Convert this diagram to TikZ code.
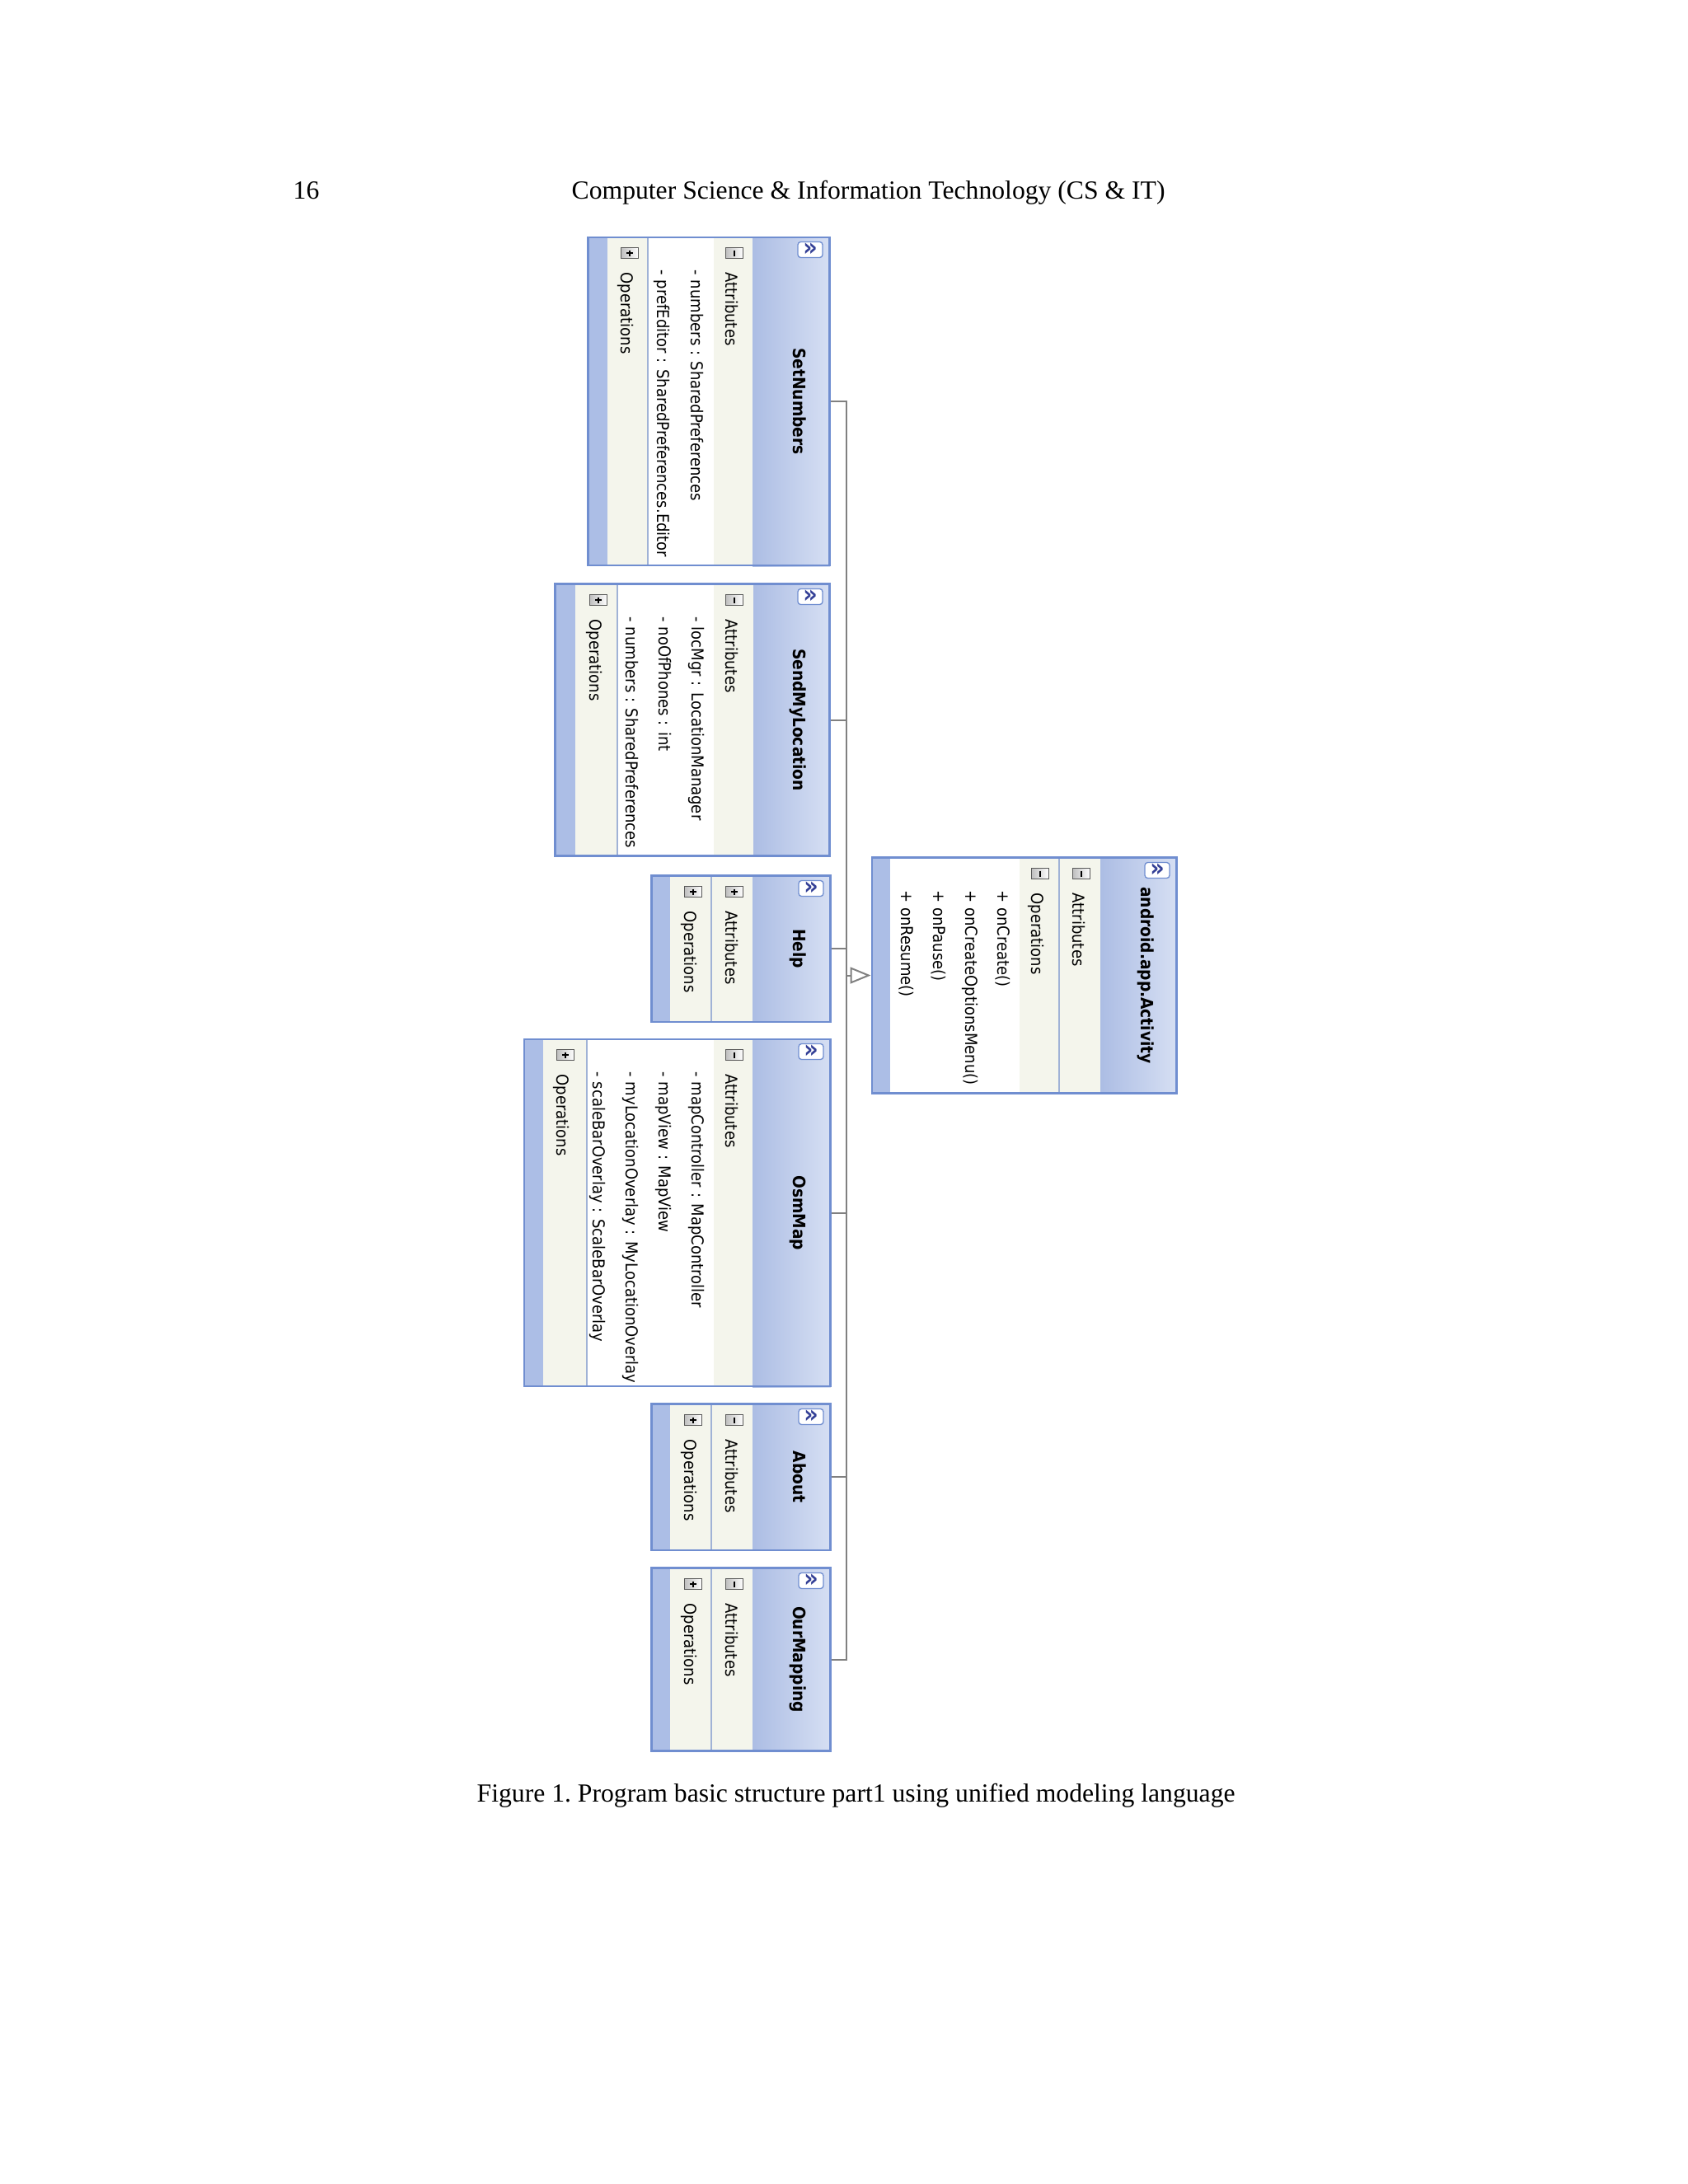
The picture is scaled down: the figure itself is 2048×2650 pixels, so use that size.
\documentclass[tikz,border=0pt]{standalone}
\usepackage{fontspec}
\setmainfont{Liberation Serif}
\newfontfamily\umlfont{DejaVu Sans Condensed}
\usetikzlibrary{arrows.meta}
\newlength\pxu
\setlength\pxu{0.2989pt}
\definecolor{framecol}{RGB}{112,142,208}
\definecolor{stripcol}{RGB}{172,190,230}
\definecolor{hdrdark}{RGB}{172,189,228}
\definecolor{hdrlight}{RGB}{214,223,243}
\definecolor{rowcol}{RGB}{244,245,236}
\definecolor{divcol}{RGB}{160,178,214}
\definecolor{linecol}{RGB}{128,128,128}
\definecolor{btncol}{RGB}{52,64,150}

\begin{document}
\begin{tikzpicture}[x=0.010542cm, y=-0.010542cm,
  frame/.style={draw=framecol, line width=0.7pt, inner sep=0pt},
  strip/.style={fill=stripcol},
  row/.style={fill=rowcol},
  header/.style={left color=hdrdark, right color=hdrlight},
  divider/.style={draw=divcol, line width=0.5pt},
  classname/.style={font=\umlfont\bfseries\fontsize{6.2}{7}\selectfont, rotate=-90, anchor=base, inner sep=0pt},
  entry/.style={font=\umlfont\fontsize{6}{7}\selectfont, rotate=-90, anchor=base west, inner sep=0pt},
  btn/.style={draw=framecol, fill=white, rounded corners=1pt, line width=0.4pt,
    minimum width=30*\pxu, minimum height=19*\pxu, inner sep=0pt, text=btncol,
    font=\umlfont\bfseries\fontsize{9}{9}\selectfont},
  conn/.style={draw=linecol, line width=0.6pt},
  gen/.style={conn, -{Triangle[open, length=7.5pt, width=6pt]}},
  pagetext/.style={font=\fontsize{9.5}{11}\selectfont\frenchspacing, inner sep=0pt, anchor=base west},
  pics/minusbox/.style={code={
    \shade[left color=gray!50, right color=white, draw=gray!70!black, line width=0.3pt]
      (-10.5,-6.5) rectangle (10.5,6.5);
    \draw[line width=0.8pt] (0,-3.5) -- (0,3.5);
  }},
  pics/plusbox/.style={code={
    \shade[left color=gray!50, right color=white, draw=gray!70!black, line width=0.3pt]
      (-10.5,-6.5) rectangle (10.5,6.5);
    \draw[line width=0.6pt] (0,-3.5) -- (0,3.5) (-4,0) -- (4,0);
  }}
]
\fill[white] (0,0) rectangle (2048,2650);
\useasboundingbox (0,0) rectangle (2048,2650);

\node[pagetext] (pgnum) at (355,241) {16};
\node[pagetext] (runhead) at (693,241) {Computer Science \& Information Technology (CS \& IT)};

% SetNumbers
\fill[strip] (713,287) rectangle (737,687);
\fill[row] (737,287) rectangle (913,687);
\fill[white] (786,287) rectangle (866,687);
\shade[header] (913,287) rectangle (1007,687);
\draw[divider] (786,287) -- (786,687);
\node[frame, minimum width=294*\pxu, minimum height=400*\pxu] (sn) at (860,487) {};
\node[classname] (sn-name) at (962,487) {SetNumbers};
\node[btn] (sn-btn) at (983,303) {»};
\pic at (891,307) {minusbox};
\node[entry] (sn-attr) at (880,330) {Attributes};
\node[entry] (sn-a1) at (838,327) {- numbers : SharedPreferences};
\node[entry] (sn-a2) at (797,327) {- prefEditor : SharedPreferences.Editor};
\pic at (764,307) {plusbox};
\node[entry] (sn-ops) at (753,330) {Operations};

% SendMyLocation
\fill[strip] (673,708) rectangle (698,1039);
\fill[row] (698,708) rectangle (914,1039);
\fill[white] (749,708) rectangle (866,1039);
\shade[header] (914,708) rectangle (1007,1039);
\draw[divider] (749,708) -- (749,1039);
\node[frame, minimum width=334*\pxu, minimum height=331*\pxu] (sml) at (840,873.5) {};
\node[classname] (sml-name) at (962,873.5) {SendMyLocation};
\node[btn] (sml-btn) at (983,724) {»};
\pic at (891,728) {minusbox};
\node[entry] (sml-attr) at (880,751) {Attributes};
\node[entry] (sml-a1) at (839,748) {- locMgr : LocationManager};
\node[entry] (sml-a2) at (799,748) {- noOfPhones : int};
\node[entry] (sml-a3) at (759,748) {- numbers : SharedPreferences};
\pic at (726,728) {plusbox};
\node[entry] (sml-ops) at (715,751) {Operations};

% Help
\fill[strip] (790,1062) rectangle (813,1240);
\fill[row] (813,1062) rectangle (913,1240);
\shade[header] (913,1062) rectangle (1008,1240);
\draw[divider] (863,1062) -- (863,1240);
\node[frame, minimum width=218*\pxu, minimum height=178*\pxu] (help) at (899,1151) {};
\node[classname] (help-name) at (962,1151) {Help};
\node[btn] (help-btn) at (984,1078) {»};
\pic at (891,1082) {plusbox};
\node[entry] (help-attr) at (880,1105) {Attributes};
\pic at (841,1082) {plusbox};
\node[entry] (help-ops) at (830,1105) {Operations};

% android.app.Activity
\fill[strip] (1057,1040) rectangle (1080,1327);
\fill[row] (1080,1040) rectangle (1335,1327);
\fill[white] (1080,1040) rectangle (1237,1327);
\shade[header] (1335,1040) rectangle (1428,1327);
\draw[divider] (1285,1040) -- (1285,1327);
\node[frame, minimum width=371*\pxu, minimum height=287*\pxu] (act) at (1242.5,1183.5) {};
\node[classname] (act-name) at (1384,1183.5) {android.app.Activity};
\node[btn] (act-btn) at (1404,1056) {»};
\pic at (1312,1060) {minusbox};
\node[entry] (act-attr) at (1301,1083) {Attributes};
\pic at (1262,1060) {minusbox};
\node[entry] (act-ops) at (1251,1083) {Operations};
\node[entry] (act-o1) at (1210,1080) {+ onCreate()};
\node[entry] (act-o2) at (1171,1080) {+ onCreateOptionsMenu()};
\node[entry] (act-o3) at (1132,1080) {+ onPause()};
\node[entry] (act-o4) at (1093,1080) {+ onResume()};

% OsmMap
\fill[strip] (635,1260) rectangle (659,1683);
\fill[row] (659,1260) rectangle (913,1683);
\fill[white] (712,1260) rectangle (866,1683);
\shade[header] (913,1260) rectangle (1008,1683);
\draw[divider] (712,1260) -- (712,1683);
\node[frame, minimum width=373*\pxu, minimum height=423*\pxu] (osm) at (821.5,1471.5) {};
\node[classname] (osm-name) at (962,1471.5) {OsmMap};
\node[btn] (osm-btn) at (984,1276) {»};
\pic at (891,1280) {minusbox};
\node[entry] (osm-attr) at (880,1303) {Attributes};
\node[entry] (osm-a1) at (839,1300) {- mapController : MapController};
\node[entry] (osm-a2) at (799,1300) {- mapView : MapView};
\node[entry] (osm-a3) at (759,1300) {- myLocationOverlay : MyLocationOverlay};
\node[entry] (osm-a4) at (719,1300) {- scaleBarOverlay : ScaleBarOverlay};
\pic at (686,1280) {plusbox};
\node[entry] (osm-ops) at (675,1303) {Operations};

% About
\fill[strip] (790,1703) rectangle (813,1881);
\fill[row] (813,1703) rectangle (913,1881);
\shade[header] (913,1703) rectangle (1008,1881);
\draw[divider] (863,1703) -- (863,1881);
\node[frame, minimum width=218*\pxu, minimum height=178*\pxu] (about) at (899,1792) {};
\node[classname] (about-name) at (962,1792) {About};
\node[btn] (about-btn) at (984,1719) {»};
\pic at (891,1723) {minusbox};
\node[entry] (about-attr) at (880,1746) {Attributes};
\pic at (841,1723) {plusbox};
\node[entry] (about-ops) at (830,1746) {Operations};

% OurMapping
\fill[strip] (790,1902) rectangle (813,2125);
\fill[row] (813,1902) rectangle (913,2125);
\shade[header] (913,1902) rectangle (1008,2125);
\draw[divider] (863,1902) -- (863,2125);
\node[frame, minimum width=218*\pxu, minimum height=223*\pxu] (omap) at (899,2013.5) {};
\node[classname] (omap-name) at (962,2013.5) {OurMapping};
\node[btn] (omap-btn) at (984,1918) {»};
\pic at (891,1922) {minusbox};
\node[entry] (omap-attr) at (880,1945) {Attributes};
\pic at (841,1922) {plusbox};
\node[entry] (omap-ops) at (830,1945) {Operations};

% inheritance
\coordinate (bus) at (1027,1183.5);
\foreach \c in {sn,sml,help,osm,about,omap}
  \draw[conn] (\c.east) -| (bus);
\draw[gen] (bus) -- (act.west);

\node[pagetext] (caption) at (578,2186) {Figure 1. Program basic structure part1 using unified modeling language};
\end{tikzpicture}
\end{document}
